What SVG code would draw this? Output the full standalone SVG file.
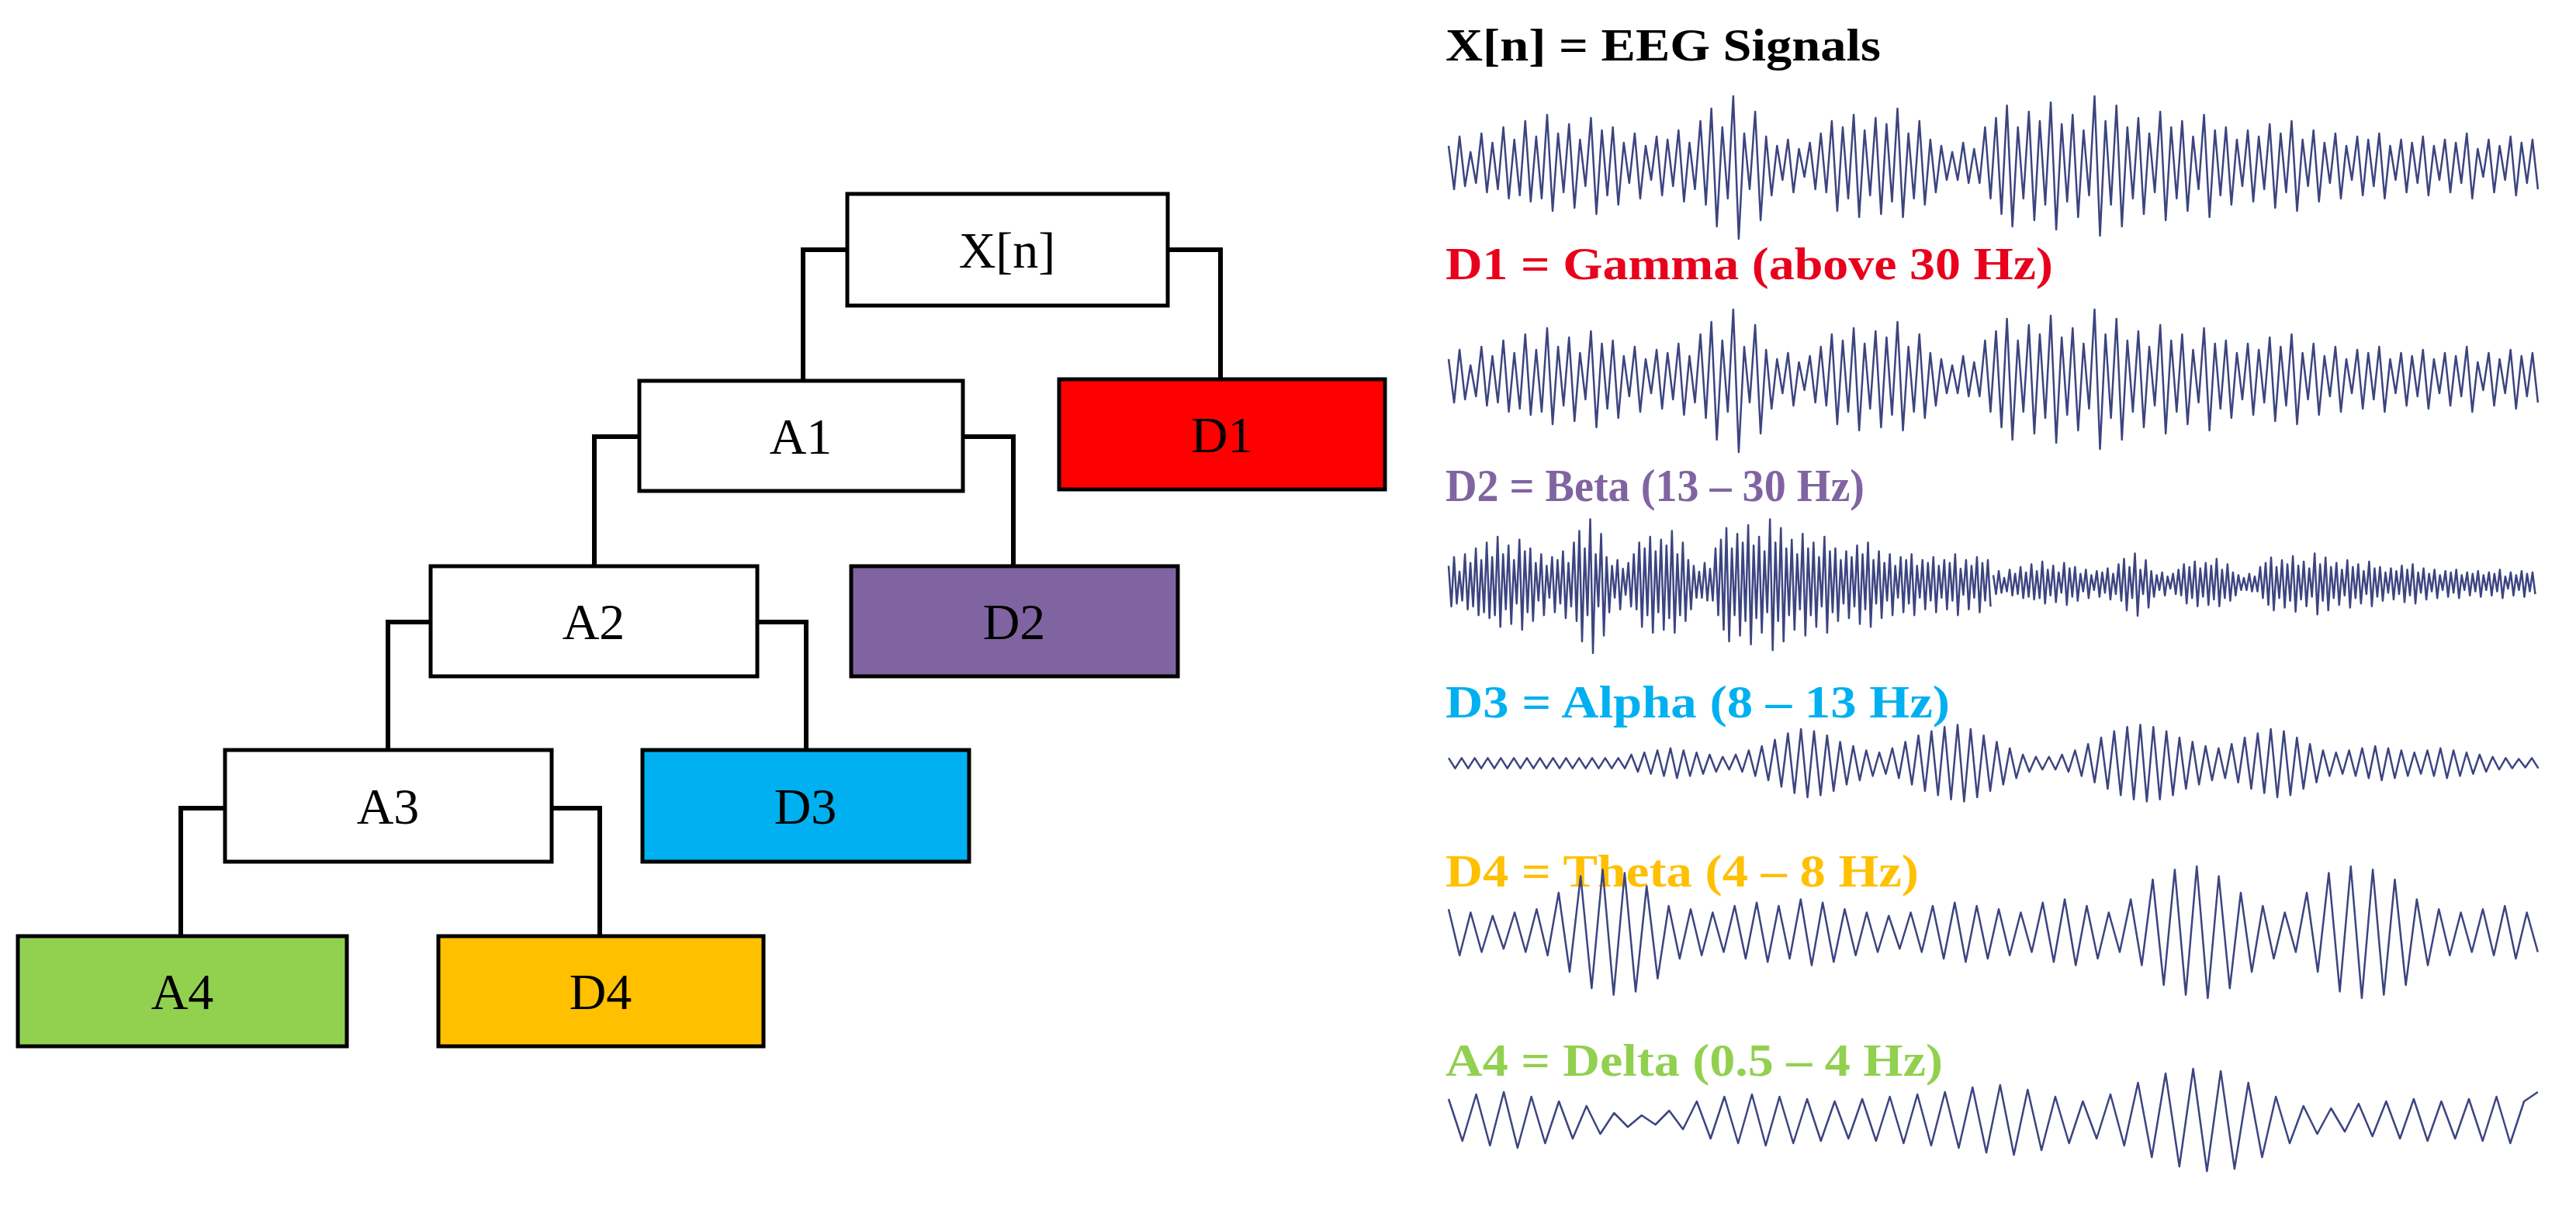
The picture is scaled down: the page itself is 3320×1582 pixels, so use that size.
<svg xmlns="http://www.w3.org/2000/svg" width="3320" height="1582" viewBox="0 0 3320 1582">
<style>
.box{stroke:#000;stroke-width:5}
.nl{font-family:"Liberation Serif",serif;font-size:66px;text-anchor:middle;fill:#000}
.lb{font-family:"Liberation Serif",serif;font-size:60px;font-weight:bold}
.con{fill:none;stroke:#000;stroke-width:6}
.sig{fill:none;stroke:#3c4580;stroke-width:2.5;vector-effect:non-scaling-stroke;stroke-linejoin:round}
</style>
<defs>
<polyline id="gam" class="sig" points="0,-30 1,40 2,-45 3,35 4,-20 5,30 6,-50 7,45 8,-35 9,40 10,-60 11,55 12,-40 13,50 14,-70 15,60 16,-45 17,55 18,-80 19,75 20,-50 21,45 22,-65 23,70 24,-40 25,35 26,-75 27,80 28,-55 29,50 30,-60 31,65 32,-35 33,30 34,-50 35,55 36,-30 37,25 38,-45 39,50 40,-40 41,35 42,-55 43,60 44,-35 45,40 46,-70 47,65 48,-90 49,100 50,-60 51,55 52,-110 53,120 54,-50 55,40 56,-85 57,90 58,-45 59,50 60,-30 61,25 62,-40 63,45 64,-25 65,20 66,-35 67,40 68,-50 69,45 70,-70 71,75 72,-60 73,55 74,-80 75,85 76,-55 77,50 78,-75 79,80 80,-65 81,60 82,-90 83,85 84,-50 85,55 86,-70 87,65 88,-40 89,45 90,-30 91,25 92,-20 93,25 94,-35 95,30 96,-25 97,30 98,-60 99,55 100,-75 101,80 102,-95 103,100 104,-60 105,55 106,-85 107,90 108,-70 109,65 110,-100 111,105 112,-65 113,60 114,-80 115,85 116,-55 117,50 118,-110 119,115 120,-70 121,65 122,-95 123,100 124,-60 125,55 126,-75 127,80 128,-50 129,45 130,-85 131,90 132,-60 133,55 134,-70 135,75 136,-45 137,40 138,-80 139,85 140,-55 141,50 142,-60 143,65 144,-40 145,35 146,-55 147,60 148,-45 149,40 150,-65 151,70 152,-50 153,45 154,-70 155,75 156,-40 157,35 158,-55 159,60 160,-35 161,30 162,-50 163,55 164,-30 165,25 166,-45 167,50 168,-40 169,35 170,-50 171,55 172,-30 173,25 174,-40 175,45 176,-35 177,30 178,-45 179,50 180,-30 181,25 182,-40 183,45 184,-35 185,30 186,-50 187,55 188,-25 189,20 190,-40 191,45 192,-30 193,25 194,-45 195,50 196,-35 197,30 198,-40 199,40"/>
</defs>
<g id="connectors">
<polyline class="con" points="1092,322 1035,322 1035,491"/>
<polyline class="con" points="1505,322 1573,322 1573,489"/>
<polyline class="con" points="824,563 766,563 766,730"/>
<polyline class="con" points="1241,563 1306,563 1306,730"/>
<polyline class="con" points="555,802 500,802 500,967"/>
<polyline class="con" points="976,802 1039,802 1039,967"/>
<polyline class="con" points="290,1042 233,1042 233,1207"/>
<polyline class="con" points="711,1042 773,1042 773,1207"/>
</g>
<g id="node-xn"><rect class="box" x="1092" y="250" width="413" height="144" fill="#fff"/><text class="nl" x="1298" y="345">X[n]</text></g>
<g id="node-a1"><rect class="box" x="824" y="491" width="417" height="142" fill="#fff"/><text class="nl" x="1032" y="585">A1</text></g>
<g id="node-d1"><rect class="box" x="1365" y="489" width="420" height="142" fill="#ff0000"/><text class="nl" x="1575" y="583">D1</text></g>
<g id="node-a2"><rect class="box" x="555" y="730" width="421" height="142" fill="#fff"/><text class="nl" x="765" y="824">A2</text></g>
<g id="node-d2"><rect class="box" x="1097" y="730" width="421" height="142" fill="#8064a2"/><text class="nl" x="1307" y="824">D2</text></g>
<g id="node-a3"><rect class="box" x="290" y="967" width="421" height="144" fill="#fff"/><text class="nl" x="500" y="1062">A3</text></g>
<g id="node-d3"><rect class="box" x="828" y="967" width="421" height="144" fill="#00b0f0"/><text class="nl" x="1038" y="1062">D3</text></g>
<g id="node-a4"><rect class="box" x="23" y="1207" width="424" height="142" fill="#92d050"/><text class="nl" x="235" y="1301">A4</text></g>
<g id="node-d4"><rect class="box" x="565" y="1207" width="419" height="142" fill="#ffc000"/><text class="nl" x="774" y="1301">D4</text></g>
<g id="labels">
<text class="lb" x="1863" y="78" fill="#000" textLength="561" lengthAdjust="spacingAndGlyphs">X[n] = EEG Signals</text>
<text class="lb" x="1863" y="360" fill="#e8001c" textLength="783" lengthAdjust="spacingAndGlyphs">D1 = Gamma (above 30 Hz)</text>
<text class="lb" x="1863" y="646" fill="#8064a2" textLength="540" lengthAdjust="spacingAndGlyphs">D2 = Beta (13 – 30 Hz)</text>
<text class="lb" x="1863" y="925" fill="#00b0f0" textLength="650" lengthAdjust="spacingAndGlyphs">D3 = Alpha (8 – 13 Hz)</text>
<text class="lb" x="1863" y="1143" fill="#ffc000" textLength="610" lengthAdjust="spacingAndGlyphs">D4 = Theta (4 – 8 Hz)</text>
<text class="lb" x="1863" y="1387" fill="#92d050" textLength="641" lengthAdjust="spacingAndGlyphs">A4 = Delta (0.5 – 4 Hz)</text>
</g>
<g id="signals">
<use href="#gam" transform="translate(1867,212) scale(7.055,0.8)"/>
<use href="#gam" transform="translate(1867,487) scale(7.055,0.8)"/>
<use href="#gam" transform="translate(1867,752) scale(3.51,0.75)"/>
<use href="#gam" transform="translate(2569,752) scale(3.51,0.35)"/>
<polyline class="sig" transform="translate(1867,984) scale(8.41,0.55)" points="0,-12 1,12 2,-12 3,12 4,-12 5,12 6,-12 7,12 8,-12 9,12 10,-12 11,12 12,-12 13,12 14,-12 15,12 16,-12 17,12 18,-12 19,12 20,-12 21,12 22,-12 23,12 24,-12 25,12 26,-12 27,12 28,-20 29,20 30,-25 31,25 32,-30 33,30 34,-35 35,35 36,-30 37,30 38,-25 39,25 40,-20 41,20 42,-15 43,15 44,-20 45,20 46,-30 47,30 48,-40 49,40 50,-55 51,55 52,-70 53,70 54,-80 55,80 56,-75 57,75 58,-65 59,65 60,-50 61,50 62,-40 63,40 64,-30 65,30 66,-25 67,25 68,-35 69,35 70,-50 71,50 72,-65 73,65 74,-75 75,75 76,-85 77,85 78,-90 79,90 80,-80 81,80 82,-65 83,65 84,-50 85,50 86,-35 87,35 88,-20 89,20 90,-15 91,15 92,-15 93,15 94,-20 95,20 96,-30 97,30 98,-45 99,45 100,-60 101,60 102,-75 103,75 104,-85 105,85 106,-90 107,90 108,-85 109,85 110,-75 111,75 112,-60 113,60 114,-50 115,50 116,-40 117,40 118,-35 119,35 120,-45 121,45 122,-60 123,60 124,-70 125,70 126,-80 127,80 128,-75 129,75 130,-60 131,60 132,-45 133,45 134,-30 135,30 136,-25 137,25 138,-30 139,30 140,-35 141,35 142,-40 143,40 144,-35 145,35 146,-30 147,30 148,-25 149,25 150,-30 151,30 152,-35 153,35 154,-30 155,30 156,-25 157,25 158,-20 159,20 160,-15 161,15 162,-12 163,12 164,-10 165,10 166,-12 167,12"/>
<polyline class="sig" transform="translate(1867,1202) scale(14.18,0.85)" points="0,-35 1,35 2,-30 3,30 4,-25 5,25 6,-30 7,30 8,-35 9,35 10,-60 11,60 12,-85 13,85 14,-95 15,95 16,-90 17,90 18,-70 19,70 20,-40 21,40 22,-35 23,35 24,-30 25,30 26,-40 27,40 28,-45 29,45 30,-40 31,40 32,-50 33,50 34,-45 35,45 36,-35 37,35 38,-30 39,30 40,-25 41,25 42,-30 43,30 44,-40 45,40 46,-45 47,45 48,-40 49,40 50,-35 51,35 52,-30 53,30 54,-45 55,45 56,-50 57,50 58,-40 59,40 60,-30 61,30 62,-50 63,50 64,-80 65,80 66,-95 67,95 68,-100 69,100 70,-85 71,85 72,-60 73,60 74,-40 75,40 76,-30 77,30 78,-60 79,60 80,-90 81,90 82,-100 83,100 84,-95 85,95 86,-80 87,80 88,-50 89,50 90,-35 91,35 92,-30 93,30 94,-35 95,35 96,-40 97,40 98,-30 99,30"/>
<polyline class="sig" transform="translate(1867,1444) scale(17.77,0.6)" points="0,-45 1,45 2,-55 3,55 4,-60 5,60 6,-50 7,50 8,-40 9,40 10,-30 11,30 12,-15 13,15 14,-10 15,10 16,-20 17,20 18,-40 19,40 20,-50 21,50 22,-55 23,55 24,-50 25,50 26,-45 27,45 28,-40 29,40 30,-45 31,45 32,-50 33,50 34,-55 35,55 36,-60 37,60 38,-70 39,70 40,-75 41,75 42,-65 43,65 44,-50 45,50 46,-40 47,40 48,-55 49,55 50,-80 51,80 52,-100 53,100 54,-110 55,110 56,-105 57,105 58,-80 59,80 60,-50 61,50 62,-30 63,30 64,-25 65,25 66,-35 67,35 68,-40 69,40 70,-45 71,45 72,-40 73,40 74,-45 75,45 76,-50 77,50 78,-40 79,-60"/>
</g>
</svg>
